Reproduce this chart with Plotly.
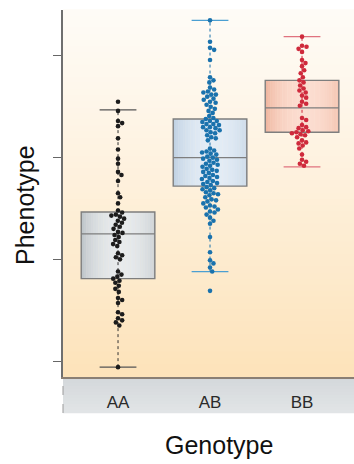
import numpy as np
import plotly.graph_objects as go

# ---------------- data ----------------
categories = ["AA", "AB", "BB"]

aa_values = [3.55, 3.46, 3.36, 3.34, 3.31, 3.19, 3.08, 2.99, 2.94, 2.86, 2.83, 2.77,
             2.65, 2.61, 2.55, 2.48, 2.46, 2.44, 2.43, 2.42, 2.40, 2.38, 2.36, 2.34,
             2.32, 2.30, 2.27, 2.26, 2.24, 2.22, 2.19, 2.17, 2.15, 2.13, 2.06, 2.04,
             2.02, 2.00, 1.88, 1.85, 1.83, 1.81, 1.79, 1.77, 1.74, 1.71, 1.68, 1.62,
             1.60, 1.57, 1.48, 1.46, 1.42, 1.40, 1.38, 1.35, 0.94]

ab_values = [4.35, 4.14, 4.08, 4.06, 3.96, 3.79, 3.76, 3.74, 3.69, 3.67, 3.65, 3.64,
             3.62, 3.60, 3.58, 3.57, 3.54, 3.52, 3.50, 3.48, 3.46, 3.44, 3.41, 3.39,
             3.38, 3.36, 3.35, 3.33, 3.32, 3.30, 3.29, 3.27, 3.25, 3.24, 3.22, 3.20,
             3.19, 3.17, 3.09, 3.07, 3.06, 3.04, 3.03, 3.01, 3.00, 2.98, 2.97, 2.95,
             2.94, 2.92, 2.91, 2.89, 2.88, 2.86, 2.85, 2.83, 2.82, 2.80, 2.79, 2.77,
             2.76, 2.74, 2.73, 2.71, 2.70, 2.68, 2.66, 2.64, 2.63, 2.61, 2.59, 2.57,
             2.55, 2.53, 2.51, 2.49, 2.47, 2.46, 2.44, 2.41, 2.38, 2.35, 2.22, 2.07,
             1.99, 1.96, 1.92, 1.88, 1.69,
             3.36, 3.33, 3.30, 3.27, 3.05, 2.99, 2.93, 2.87, 2.81, 2.75, 2.69, 2.65,
             2.58, 2.52, 3.62, 3.55]

bb_values = [4.19, 4.10, 4.09, 4.07, 4.04, 3.96, 3.93, 3.90, 3.86, 3.83, 3.79, 3.76,
             3.74, 3.71, 3.68, 3.66, 3.64, 3.61, 3.59, 3.55, 3.53, 3.51, 3.39, 3.37,
             3.32, 3.30, 3.29, 3.27, 3.26, 3.25, 3.24, 3.23, 3.22, 3.20, 3.17, 3.15,
             3.14, 3.12, 3.09, 3.03, 2.98, 2.96, 2.94, 2.92]

# box statistics: q1, median, q3, lower whisker, upper whisker
box_q1 = [1.81, 2.72, 3.25]
box_median = [2.25, 3.00, 3.49]
box_q3 = [2.465, 3.38, 3.76]
whisker_low = [0.94, 1.88, 2.91]
whisker_high = [3.47, 4.35, 4.19]

tick_values = [1, 2, 3, 4]

# ---------------- style ----------------
W, H = 354, 464
M_L, M_R, M_T, M_B = 63, 0, 10, 87
Y_RANGE = [0.843, 4.452]
X_RANGE = [-0.598, 2.565]
BOX_W = 0.8
point_colors = ["#1c1c1c", "#1a72ad", "#cf2a3c"]
cap_colors = ["#555555", "#4b9fd2", "#e0727f"]
whisk_colors = ["#333333", "#1a72ad", "#cf2a3c"]
box_edge_cols = [(184, 191, 196), (186, 205, 224), (238, 176, 152)]
box_mid_cols = [(232, 235, 237), (228, 237, 246), (252, 222, 209)]
box_line = "#7e7e7e"

plot_w = W - M_L - M_R
plot_h = H - M_T - M_B
px_x = plot_w / (X_RANGE[1] - X_RANGE[0])
px_y = plot_h / (Y_RANGE[1] - Y_RANGE[0])


def beeswarm(vals, d=4.6):
    """Return x offsets (data units) for a simple beeswarm layout."""
    ys = np.array(vals) * px_y
    order = np.argsort(-ys)
    placed = []
    xs = np.zeros(len(vals))
    for i in order:
        y = ys[i]
        cands = [0.0]
        for (px, py) in placed:
            dy = abs(py - y)
            if dy < d:
                dx = np.sqrt(d * d - dy * dy)
                cands += [px + dx, px - dx]
        cands.sort(key=abs)
        for c in cands:
            ok = True
            for (px, py) in placed:
                if (px - c) ** 2 + (py - y) ** 2 < d * d - 1e-6:
                    ok = False
                    break
            if ok:
                xs[i] = c
                placed.append((c, y))
                break
    return xs / px_x


fig = go.Figure()

all_vals = [aa_values, ab_values, bb_values]
for i, cat in enumerate(categories):
    fig.add_trace(go.Box(
        x=[i], q1=[box_q1[i]], median=[box_median[i]], q3=[box_q3[i]],
        lowerfence=[box_q1[i]], upperfence=[box_q3[i]],
        width=BOX_W, whiskerwidth=0, boxpoints=False,
        fillcolor="rgba(0,0,0,0)", line=dict(color=box_line, width=1.4),
        hoverinfo="skip", showlegend=False))

for i, cat in enumerate(categories):
    fig.add_trace(go.Scatter(
        x=[i, i], y=[whisker_low[i], whisker_high[i]], mode="lines",
        line=dict(color=whisk_colors[i], width=1, dash="dot"),
        hoverinfo="skip", showlegend=False))
    for yv in (whisker_low[i], whisker_high[i]):
        fig.add_trace(go.Scatter(
            x=[i - 0.2, i + 0.2], y=[yv, yv], mode="lines",
            line=dict(color=cap_colors[i], width=1.3),
            hoverinfo="skip", showlegend=False))

for i, cat in enumerate(categories):
    vals = all_vals[i]
    offs = beeswarm(vals)
    fig.add_trace(go.Scatter(
        x=i + offs, y=vals, mode="markers",
        marker=dict(color=point_colors[i], size=4.6, line=dict(width=0)),
        name=cat, showlegend=False))

# background gradient (style)
shapes = []
n = 60
top_c = np.array([255, 252, 247])
bot_c = np.array([253, 227, 186])
for k in range(n):
    t = (k + 0.5) / n
    c = top_c + (bot_c - top_c) * (t ** 1.1)
    shapes.append(dict(type="rect", xref="paper", yref="paper",
                       x0=0, x1=1, y0=1 - (k + 1) / n, y1=1 - k / n + 0.002,
                       fillcolor="rgb(%d,%d,%d)" % tuple(c.astype(int)),
                       line=dict(width=0), layer="below"))
# horizontal gradient inside each box (style)
nb = 30
for i in range(len(categories)):
    e = np.array(box_edge_cols[i])
    m_ = np.array(box_mid_cols[i])
    x_left = i - BOX_W / 2
    for k in range(nb):
        t = (k + 0.5) / nb
        f = np.sin(np.pi * min(1.0, t / 1.1)) ** 0.6
        c = e + (m_ - e) * f
        shapes.append(dict(type="rect", xref="x", yref="y",
                           x0=x_left + BOX_W * k / nb,
                           x1=x_left + BOX_W * (k + 1) / nb + 0.004,
                           y0=box_q1[i], y1=box_q3[i],
                           fillcolor="rgb(%d,%d,%d)" % tuple(c.astype(int)),
                           line=dict(width=0), layer="below"))
# grey category band
band_h = 36 / plot_h
m = 12
g_top = np.array([212, 216, 219])
g_bot = np.array([226, 229, 231])
for k in range(m):
    t = (k + 0.5) / m
    c = g_top + (g_bot - g_top) * t
    shapes.append(dict(type="rect", xref="paper", yref="paper",
                       x0=0, x1=1, y0=-band_h * (k + 1) / m - 0.001, y1=-band_h * k / m,
                       fillcolor="rgb(%d,%d,%d)" % tuple(c.astype(int)),
                       line=dict(width=0), layer="below"))
shapes.append(dict(type="line", xref="paper", yref="paper", x0=0, x1=0,
                   y0=-band_h, y1=0, line=dict(color="#9a9a9a", width=1, dash="dash")))

fig.update_layout(
    width=W, height=H,
    margin=dict(l=M_L, r=M_R, t=M_T, b=M_B),
    paper_bgcolor="white", plot_bgcolor="rgba(0,0,0,0)",
    shapes=shapes,
    xaxis=dict(range=X_RANGE, tickvals=[0, 1, 2], ticktext=categories,
               showgrid=False, zeroline=False, ticks="",
               showline=True, linecolor="#8a7f74", linewidth=1.5,
               tickfont=dict(family="Liberation Sans, Arial", size=17, color="#2a2a2a"),
               ticklabelstandoff=9),
    yaxis=dict(range=Y_RANGE, tickvals=tick_values, showticklabels=False,
               showgrid=False, zeroline=False, ticks="outside", ticklen=8,
               tickcolor="#666666", tickwidth=1,
               showline=True, linecolor="#6f6f6f", linewidth=1.5),
    annotations=[
        dict(text="Genotype", xref="paper", yref="paper", x=(219 - M_L) / plot_w,
             y=-(445 - (M_T + plot_h)) / plot_h, showarrow=False,
             font=dict(family="Liberation Sans, Arial", size=25, color="#111111"),
             xanchor="center", yanchor="middle"),
        dict(text="Phenotype", xref="paper", yref="paper", x=-(M_L - 25) / plot_w,
             y=(M_T + plot_h - 205) / plot_h, showarrow=False, textangle=-90,
             font=dict(family="Liberation Sans, Arial", size=25, color="#111111"),
             xanchor="center", yanchor="middle"),
    ],
)

fig.write_html("out.html")
